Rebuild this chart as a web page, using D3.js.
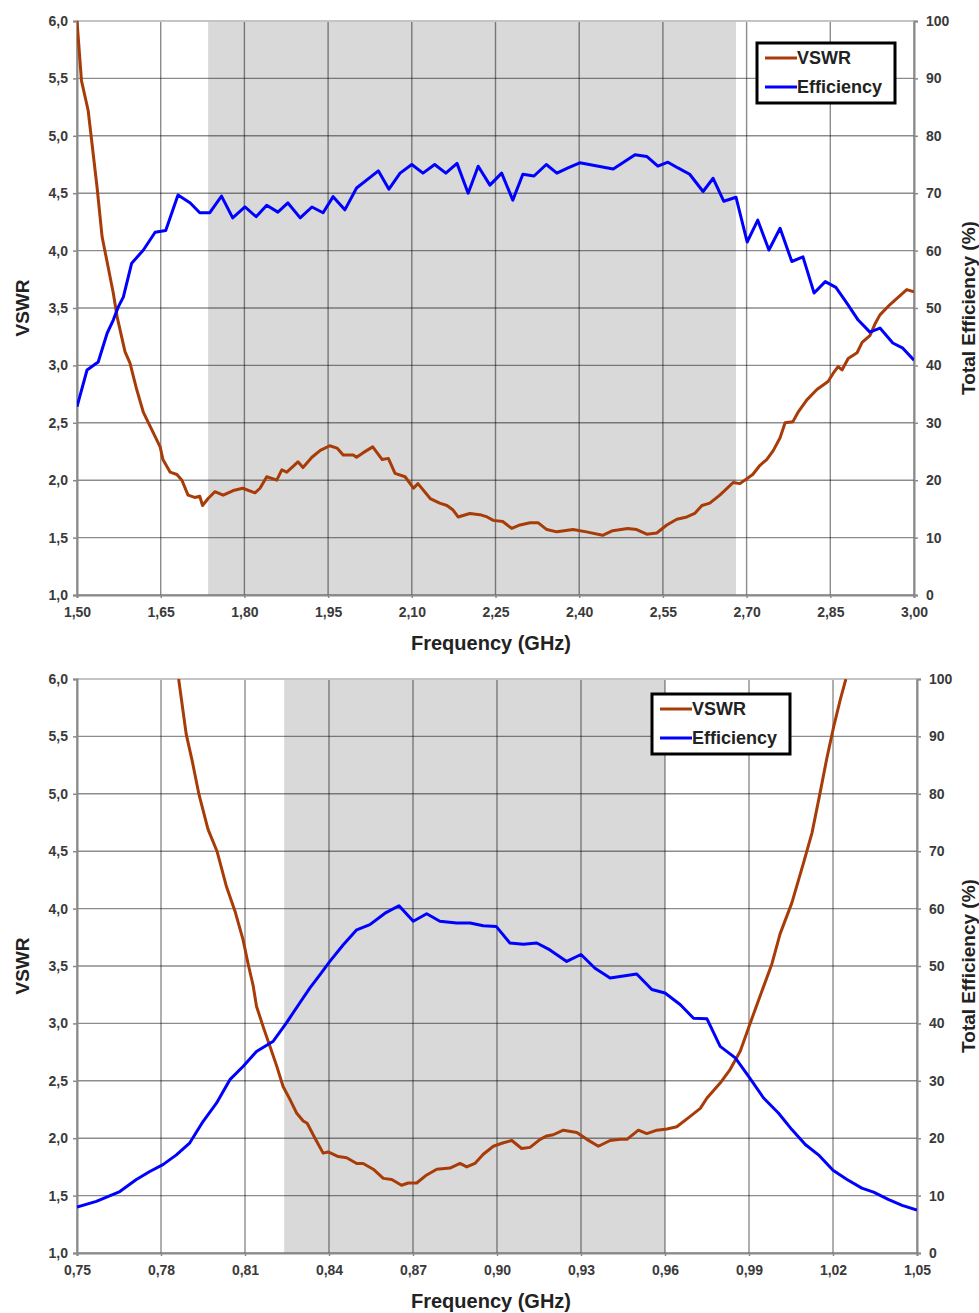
<!DOCTYPE html>
<html>
<head>
<meta charset="utf-8">
<script src="https://cdn.jsdelivr.net/npm/d3@7"></script>
<style>
  body { margin: 0; background: #fff; }
  svg { display: block; font-family: "Liberation Sans", Arial, sans-serif; }
</style>
</head>
<body>
<svg id="viz" width="979" height="1313"></svg>
<script>
// ---- upper chart (1.5 - 3 GHz) ----
const topVswrFreq = [1.500,1.508,1.520,1.536,1.545,1.554,1.565,1.572,1.586,1.595,1.607,1.619,1.637,1.649,1.654,1.667,1.679,1.688,1.699,1.711,1.720,1.725,1.735,1.747,1.762,1.780,1.797,1.819,1.828,1.840,1.858,1.867,1.876,1.896,1.905,1.921,1.936,1.953,1.966,1.977,1.995,2.001,2.013,2.030,2.047,2.058,2.070,2.088,2.103,2.111,2.133,2.150,2.163,2.174,2.183,2.204,2.222,2.235,2.246,2.263,2.279,2.294,2.312,2.326,2.342,2.360,2.389,2.413,2.442,2.460,2.487,2.503,2.521,2.539,2.557,2.575,2.593,2.607,2.620,2.634,2.652,2.676,2.688,2.711,2.724,2.736,2.748,2.760,2.769,2.783,2.792,2.808,2.826,2.846,2.855,2.864,2.871,2.882,2.898,2.907,2.921,2.930,2.939,2.957,2.971,2.987,3.000];
const topVswr     = [6.00,5.48,5.22,4.55,4.12,3.90,3.63,3.42,3.12,3.02,2.79,2.59,2.41,2.29,2.18,2.07,2.05,2.00,1.87,1.85,1.86,1.78,1.84,1.90,1.87,1.91,1.93,1.89,1.93,2.03,2.00,2.09,2.07,2.16,2.11,2.20,2.26,2.30,2.28,2.22,2.22,2.20,2.24,2.29,2.18,2.19,2.06,2.03,1.93,1.97,1.84,1.80,1.78,1.74,1.68,1.71,1.70,1.68,1.65,1.64,1.58,1.61,1.63,1.63,1.57,1.55,1.57,1.55,1.52,1.56,1.58,1.57,1.53,1.54,1.61,1.66,1.68,1.71,1.78,1.80,1.87,1.98,1.97,2.05,2.13,2.18,2.26,2.37,2.50,2.51,2.59,2.70,2.79,2.86,2.93,2.99,2.96,3.06,3.11,3.20,3.26,3.36,3.44,3.53,3.59,3.66,3.64];
const topEffFreq  = [1.500,1.518,1.538,1.554,1.565,1.574,1.583,1.598,1.619,1.640,1.659,1.681,1.703,1.720,1.738,1.759,1.779,1.801,1.821,1.840,1.860,1.878,1.900,1.921,1.941,1.959,1.980,2.001,2.040,2.059,2.079,2.100,2.120,2.141,2.161,2.181,2.201,2.219,2.240,2.261,2.281,2.299,2.319,2.341,2.360,2.380,2.401,2.461,2.500,2.521,2.541,2.559,2.577,2.598,2.622,2.640,2.659,2.681,2.701,2.720,2.740,2.760,2.781,2.801,2.821,2.841,2.860,2.880,2.900,2.921,2.939,2.962,2.980,3.000];
const topEff      = [32.8,39.2,40.6,45.6,47.9,50.2,51.9,57.8,60.1,63.2,63.5,69.7,68.3,66.6,66.6,69.5,65.7,67.6,65.9,67.9,66.7,68.3,65.7,67.6,66.6,69.4,67.1,70.9,73.9,70.7,73.5,75.0,73.5,75.0,73.5,75.2,70.0,74.7,71.4,73.5,68.8,73.3,73.0,75.0,73.5,74.4,75.3,74.2,76.7,76.4,74.7,75.4,74.4,73.3,70.3,72.6,68.6,69.3,61.5,65.3,60.1,63.9,58.1,58.9,52.6,54.6,53.6,50.8,47.9,45.8,46.5,43.9,43.0,40.9];
const topXTicks   = [1.50,1.65,1.80,1.95,2.10,2.25,2.40,2.55,2.70,2.85,3.00];
const topBand     = [1.735, 2.681];

// ---- lower chart (0.75 - 1.05 GHz) ----
const botVswrFreq = [0.7863,0.7890,0.7912,0.7936,0.7968,0.8000,0.8034,0.8064,0.8093,0.8111,0.8129,0.8141,0.8165,0.8189,0.8213,0.8236,0.8260,0.8284,0.8308,0.8322,0.8350,0.8379,0.8397,0.8433,0.8463,0.8499,0.8522,0.8558,0.8594,0.8624,0.8659,0.8683,0.8713,0.8749,0.8785,0.8832,0.8868,0.8892,0.8921,0.8951,0.8987,0.9023,0.9053,0.9088,0.9118,0.9154,0.9178,0.9201,0.9237,0.9285,0.9321,0.9362,0.9404,0.9440,0.9464,0.9505,0.9535,0.9571,0.9607,0.9642,0.9690,0.9726,0.9750,0.9797,0.9833,0.9869,0.9904,0.9940,0.9982,1.0011,1.0053,1.0095,1.0125,1.0154,1.0178,1.0202,1.0226,1.0246];
const botVswr     = [6.00,5.52,5.28,4.99,4.69,4.50,4.19,3.98,3.73,3.52,3.33,3.15,2.97,2.80,2.63,2.45,2.34,2.22,2.15,2.13,2.00,1.87,1.88,1.84,1.83,1.78,1.78,1.73,1.65,1.64,1.59,1.61,1.61,1.68,1.73,1.74,1.78,1.75,1.78,1.86,1.93,1.96,1.98,1.91,1.92,1.99,2.02,2.03,2.07,2.05,1.99,1.93,1.98,1.99,1.99,2.07,2.04,2.07,2.08,2.10,2.19,2.26,2.35,2.48,2.60,2.76,3.00,3.24,3.52,3.78,4.05,4.40,4.66,5.01,5.31,5.58,5.82,6.00];
const botEffFreq  = [0.7500,0.7569,0.7653,0.7712,0.7760,0.7807,0.7855,0.7903,0.7950,0.7998,0.8046,0.8093,0.8141,0.8201,0.8248,0.8296,0.8332,0.8368,0.8403,0.8451,0.8499,0.8546,0.8600,0.8650,0.8701,0.8749,0.8796,0.8856,0.8904,0.8951,0.8997,0.9046,0.9094,0.9142,0.9189,0.9249,0.9300,0.9350,0.9404,0.9499,0.9553,0.9600,0.9654,0.9702,0.9750,0.9797,0.9851,0.9898,0.9952,1.0005,1.0053,1.0101,1.0148,1.0200,1.0250,1.0303,1.0345,1.0399,1.0447,1.0500];
const botEff      = [8.0,9.0,10.7,12.8,14.2,15.4,17.1,19.2,22.9,26.1,30.2,32.5,35.1,36.9,40.1,43.6,46.2,48.5,50.8,53.7,56.3,57.2,59.2,60.5,57.8,59.1,57.8,57.5,57.5,57.0,56.9,54.0,53.8,54.0,52.8,50.8,52.0,49.6,47.9,48.6,45.9,45.3,43.3,40.9,40.8,36.0,34.0,30.8,27.0,24.4,21.5,18.9,17.1,14.4,12.8,11.3,10.6,9.3,8.3,7.5];
const botXTicks   = [0.75,0.78,0.81,0.84,0.87,0.90,0.93,0.96,0.99,1.02,1.05];
const botBand     = [0.824, 0.96];

const vswrTicks = [1.0,1.5,2.0,2.5,3.0,3.5,4.0,4.5,5.0,5.5,6.0];
const effTicks  = [0,10,20,30,40,50,60,70,80,90,100];

const VSWR_COLOR = "#a83c08";
const EFF_COLOR = "#0000ff";
const comma = (fmt) => (d) => d3.format(fmt)(d).replace(".", ",");

function drawChart(svg, c) {
    const x = d3.scaleLinear().domain(c.xDomain).range([c.left, c.right]);
    const yL = d3.scaleLinear().domain([1, 6]).range([c.bottom, c.top]);
    const yR = d3.scaleLinear().domain([0, 100]).range([c.bottom, c.top]);
    const g = svg.append("g");

    const clipId = "clip" + c.id;
    svg.append("clipPath").attr("id", clipId)
        .append("rect")
        .attr("x", c.left).attr("y", c.top)
        .attr("width", c.right - c.left).attr("height", c.bottom - c.top);

    // band shading
    g.append("rect")
        .attr("x", x(c.band[0])).attr("y", c.top)
        .attr("width", x(c.band[1]) - x(c.band[0]))
        .attr("height", c.bottom - c.top)
        .style("fill", "#d9d9d9");

    // grid
    g.selectAll(".vgrid").data(c.xTicks).enter()
        .append("line")
        .attr("x1", d => x(d)).attr("x2", d => x(d))
        .attr("y1", c.top).attr("y2", c.bottom)
        .style("stroke", "rgba(0,0,0,0.45)").style("stroke-width", 1.4);
    g.selectAll(".hgrid").data(vswrTicks).enter()
        .append("line")
        .attr("x1", c.left).attr("x2", c.right)
        .attr("y1", d => yL(d)).attr("y2", d => yL(d))
        .style("stroke", "rgba(0,0,0,0.45)").style("stroke-width", 1.4);

    // top border
    g.append("line")
        .attr("x1", c.left).attr("x2", c.right)
        .attr("y1", c.top).attr("y2", c.top)
        .style("stroke", "#c4c4c4").style("stroke-width", 2);

    // axes
    const axL = g.append("g").attr("transform", `translate(${c.left},0)`)
        .call(d3.axisLeft(yL).tickValues(vswrTicks).tickFormat(comma(".1f")).tickSize(4).tickPadding(5));
    const axR = g.append("g").attr("transform", `translate(${c.right},0)`)
        .call(d3.axisRight(yR).tickValues(effTicks).tickFormat(d3.format("d")).tickSize(4).tickPadding(8));
    const axB = g.append("g").attr("transform", `translate(0,${c.bottom})`)
        .call(d3.axisBottom(x).tickValues(c.xTicks).tickFormat(comma(".2f")).tickSize(3).tickPadding(9));
    [axL, axR, axB].forEach(a => {
        a.select(".domain").style("stroke", "#8a8a8a").style("stroke-width", 2);
        a.selectAll(".tick line").style("stroke", "#8a8a8a").style("stroke-width", 1.5);
        a.selectAll("text")
            .style("font-family", "Liberation Sans, Arial, sans-serif")
            .style("font-size", "14px")
            .style("font-weight", "bold")
            .style("fill", "#3a3a3a");
    });

    // curves
    const lineV = d3.line().x(d => x(d[0])).y(d => yL(d[1]));
    const lineE = d3.line().x(d => x(d[0])).y(d => yR(d[1]));
    g.append("path")
        .datum(d3.zip(c.vFreq, c.vswr))
        .attr("clip-path", `url(#${clipId})`)
        .attr("d", lineV)
        .style("fill", "none").style("stroke", VSWR_COLOR)
        .style("stroke-width", 3).style("stroke-linejoin", "round");
    g.append("path")
        .datum(d3.zip(c.eFreq, c.eff))
        .attr("clip-path", `url(#${clipId})`)
        .attr("d", lineE)
        .style("fill", "none").style("stroke", EFF_COLOR)
        .style("stroke-width", 3).style("stroke-linejoin", "round");

    // titles
    g.append("text")
        .attr("x", 491).attr("y", c.bottom + 55)
        .attr("text-anchor", "middle")
        .style("font-size", "20px").style("font-weight", "bold").style("fill", "#222")
        .text("Frequency (GHz)");
    const mid = (c.top + c.bottom) / 2;
    g.append("text")
        .attr("transform", `translate(29,${mid}) rotate(-90)`)
        .attr("text-anchor", "middle")
        .style("font-size", "19px").style("font-weight", "bold").style("fill", "#222")
        .text("VSWR");
    g.append("text")
        .attr("transform", `translate(975,${mid}) rotate(-90)`)
        .attr("text-anchor", "middle")
        .style("font-size", "19px").style("font-weight", "bold").style("fill", "#222")
        .text("Total Efficiency (%)");

    // legend
    const lg = g.append("g").attr("transform", `translate(${c.legend[0]},${c.legend[1]})`);
    lg.append("rect")
        .attr("width", 138).attr("height", 60)
        .style("fill", "#fff").style("stroke", "#000").style("stroke-width", 3);
    const items = [["VSWR", VSWR_COLOR], ["Efficiency", EFF_COLOR]];
    items.forEach((it, i) => {
        lg.append("line")
            .attr("x1", 8).attr("x2", 40)
            .attr("y1", 15 + i * 29).attr("y2", 15 + i * 29)
            .style("stroke", it[1]).style("stroke-width", 3);
        lg.append("text")
            .attr("x", 40).attr("y", 21 + i * 29)
            .style("font-size", "18px").style("font-weight", "bold").style("fill", "#222")
            .text(it[0]);
    });
}

const svg = d3.select("#viz");
drawChart(svg, {
    id: "top", left: 77, right: 914, top: 21, bottom: 595,
    xDomain: [1.5, 3.0], xTicks: topXTicks, band: topBand,
    vFreq: topVswrFreq, vswr: topVswr, eFreq: topEffFreq, eff: topEff,
    legend: [757, 43]
});
drawChart(svg, {
    id: "bot", left: 77, right: 917, top: 679, bottom: 1253,
    xDomain: [0.75, 1.05], xTicks: botXTicks, band: botBand,
    vFreq: botVswrFreq, vswr: botVswr, eFreq: botEffFreq, eff: botEff,
    legend: [652, 694]
});
</script>
</body>
</html>
